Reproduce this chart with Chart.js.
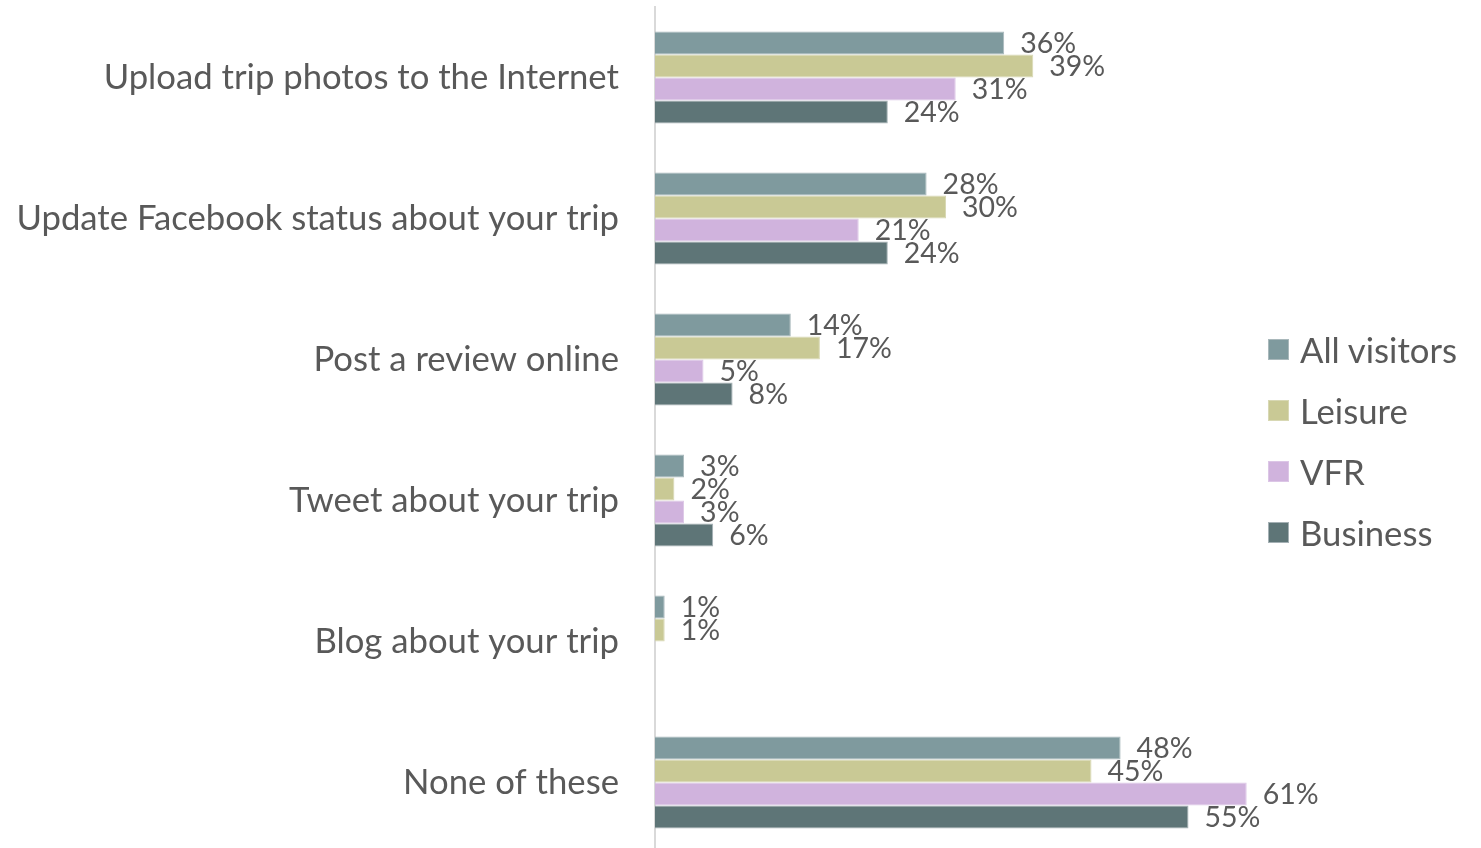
<!DOCTYPE html>
<html>
<head>
<meta charset="utf-8">
<script src="https://cdn.jsdelivr.net/npm/chart.js@4/dist/chart.umd.min.js"></script>
<style>
  html, body { margin: 0; padding: 0; background: #fff; overflow: hidden; }
  #wrap { position: relative; width: 1481px; height: 856px; }
  #legend { position: absolute; left: 1268px; top: 319px; font-family: Lato, sans-serif; font-size: 34.7px; color: #595959; }
  .item { display: flex; align-items: center; height: 61px; }
  .sw { width: 21px; height: 21px; margin-right: 11px; box-sizing: border-box; }
</style>
</head>
<body>
<div id="wrap">
  <canvas id="c" width="1481" height="856"></canvas>
  <div id="legend"></div>
</div>
<script>
const categories = [
  "Upload trip photos to the Internet",
  "Update Facebook status about your trip",
  "Post a review online",
  "Tweet about your trip",
  "Blog about your trip",
  "None of these"
];
const seriesNames = ["All visitors", "Leisure", "VFR", "Business"];
const allVisitors = [36, 28, 14, 3, 1, 48];
const leisure     = [39, 30, 17, 2, 1, 45];
const vfr         = [31, 21, 5, 3, null, 61];
const business    = [24, 24, 8, 6, null, 55];
const colors  = ["#7F9A9E", "#C9C995", "#D0B3DD", "#5E7577"];
const borders = ["#A9B8BB", "#D8D8B4", "#DCC6E6", "#A4B0B4"];

const values = [allVisitors, leisure, vfr, business];

const labelPlugin = {
  id: 'valueLabels',
  afterDatasetsDraw(chart) {
    const ctx = chart.ctx;
    ctx.save();
    ctx.font = '28.5px Lato, sans-serif';
    ctx.fillStyle = '#595959';
    ctx.textBaseline = 'middle';
    ctx.textAlign = 'left';
    chart.data.datasets.forEach((ds, i) => {
      const meta = chart.getDatasetMeta(i);
      meta.data.forEach((bar, j) => {
        const v = ds.data[j];
        if (v === null || v === undefined) return;
        ctx.fillText(v + '%', bar.x + 16, bar.y + 1);
      });
    });
    ctx.restore();
  }
};

new Chart(document.getElementById('c'), {
  type: 'bar',
  data: {
    labels: categories,
    datasets: seriesNames.map((n, i) => ({
      label: n,
      data: values[i],
      backgroundColor: colors[i],
      borderColor: borders[i],
      borderWidth: 1,
      categoryPercentage: 0.652,
      barPercentage: 1.0
    }))
  },
  options: {
    indexAxis: 'y',
    responsive: false,
    animation: false,
    layout: { padding: { top: 7, bottom: 3, right: 147, left: 0 } },
    plugins: { legend: { display: false }, tooltip: { enabled: false } },
    scales: {
      x: { display: false, min: 0, max: 70 },
      y: {
        afterFit(scale) { scale.width = 655; scale.paddingTop = 0; scale.paddingBottom = 0; },
        grid: { display: false, drawTicks: false },
        border: { display: true, color: '#D9D9D9', width: 2 },
        ticks: { font: { family: 'Lato, sans-serif', size: 34.7 }, color: '#595959', padding: 36 }
      }
    }
  },
  plugins: [labelPlugin]
});

const lg = document.getElementById('legend');
seriesNames.forEach((n, i) => {
  const d = document.createElement('div');
  d.className = 'item';
  d.innerHTML = '<div class="sw" style="background:' + colors[i] + ';border:1px solid ' + borders[i] + '"></div><span>' + n + '</span>';
  lg.appendChild(d);
});
</script>
</body>
</html>
